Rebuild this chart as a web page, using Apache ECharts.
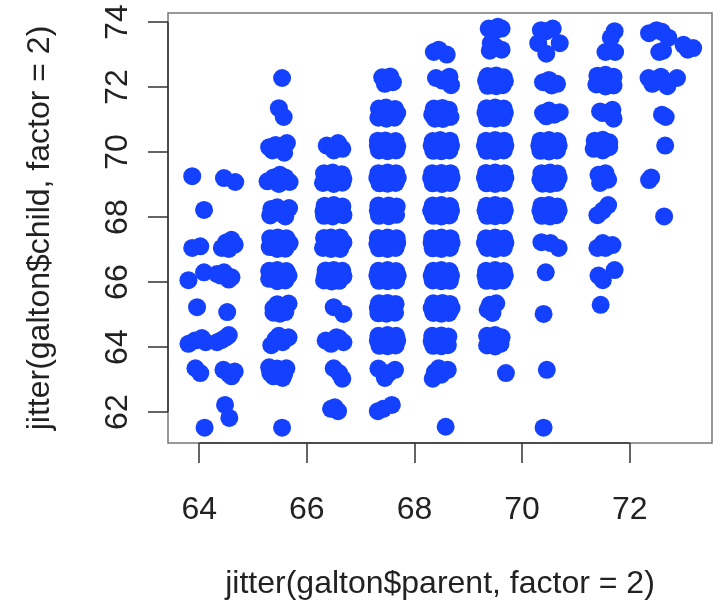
<!DOCTYPE html>
<html>
<head>
<meta charset="utf-8">
<script src="https://cdn.jsdelivr.net/npm/echarts@6/dist/echarts.min.js"></script>
<style>
  html, body { margin: 0; padding: 0; background: #fff; }
  #main { width: 721px; height: 611px; }
</style>
</head>
<body>
<div id="main"></div>
<script>
// tick labels
const xTicks = [64, 66, 68, 70, 72];
const yTicks = [62, 64, 66, 68, 70, 72, 74];

// jittered (parent, child) points, one array per parent column
const p64 = [
  [63.87, 69.26], [64.09, 68.22], [63.87, 67.05], [64.02, 67.1],
  [63.8, 66.06], [64.09, 66.3], [63.96, 65.23],
  [63.8, 64.1], [63.92, 64.2], [64.05, 64.28], [64.12, 64.15],
  [63.93, 63.35], [64.02, 63.2], [64.1, 61.52]
];
const p64_5 = [
  [64.46, 69.2], [64.67, 69.08],
  [64.42, 67.05], [64.5, 67.22], [64.6, 67.3], [64.66, 67.15], [64.55, 67.02],
  [64.33, 66.25], [64.46, 66.3], [64.6, 66.15], [64.55, 66.08], [64.4, 66.2],
  [64.52, 65.08],
  [64.33, 64.15], [64.42, 64.22], [64.5, 64.3], [64.55, 64.37],
  [64.45, 63.3], [64.55, 63.18], [64.66, 63.25], [64.6, 63.1],
  [64.48, 62.22], [64.56, 61.82]
];
const p65_5 = [
  [65.54, 72.28], [65.48, 71.35], [65.57, 71.08],
  [65.3, 70.15], [65.63, 70.28], [65.58, 69.98], [65.42, 70.22], [65.36, 70.05],
  [65.27, 69.1], [65.5, 69.3], [65.68, 69.08], [65.48, 69.02], [65.38, 69.22], [65.6, 69.22],
  [65.4, 68.15], [65.67, 68.28], [65.54, 68.1], [65.32, 68.05], [65.6, 68.02], [65.45, 68.3], [65.34, 68.25],
  [65.32, 67.35], [65.46, 67.37], [65.62, 67.35], [65.68, 67.2], [65.31, 67.08], [65.45, 67.02], [65.6, 67.03], [65.5, 67.2],
  [65.3, 66.35], [65.45, 66.37], [65.62, 66.34], [65.66, 66.2], [65.3, 66.1], [65.45, 66.03], [65.6, 66.05], [65.5, 66.2],
  [65.38, 65.06], [65.52, 65.23], [65.6, 65.08], [65.45, 65.32], [65.66, 65.34], [65.5, 65.03], [65.38, 65.2],
  [65.34, 64.06], [65.66, 64.3], [65.42, 64.25], [65.55, 64.15], [65.48, 64.35],
  [65.3, 63.38], [65.48, 63.24], [65.62, 63.35], [65.38, 63.1], [65.55, 63.05], [65.45, 63.34], [65.32, 63.2], [65.58, 63.18],
  [65.54, 61.52]
];
const p66_5 = [
  [66.37, 70.2], [66.66, 70.1], [66.5, 70.05], [66.58, 70.28],
  [66.32, 69.35], [66.48, 69.37], [66.65, 69.32], [66.68, 69.18], [66.3, 69.05], [66.5, 69.02], [66.66, 69.06], [66.45, 69.2],
  [66.33, 68.35], [66.5, 68.37], [66.66, 68.33], [66.31, 68.18], [66.32, 68.04], [66.48, 68.02], [66.68, 68.06], [66.55, 68.2],
  [66.32, 67.36], [66.45, 67.37], [66.62, 67.37], [66.68, 67.22], [66.3, 67.05], [66.45, 67.02], [66.62, 67.02], [66.5, 67.2], [66.36, 67.18],
  [66.35, 66.36], [66.5, 66.37], [66.66, 66.35], [66.68, 66.18], [66.32, 66.05], [66.46, 66.02], [66.6, 66.04], [66.5, 66.2], [66.34, 66.2],
  [66.5, 65.23], [66.68, 65.02],
  [66.35, 64.2], [66.6, 64.27], [66.68, 64.15], [66.45, 64.1], [66.55, 64.3],
  [66.5, 63.35], [66.66, 63.03], [66.6, 63.2],
  [66.52, 62.15], [66.58, 62.03], [66.45, 62.1]
];
const p67_5 = [
  [67.4, 72.3], [67.55, 72.33], [67.45, 72.1], [67.6, 72.15],
  [67.34, 71.34], [67.47, 71.37], [67.64, 71.33], [67.68, 71.2], [67.33, 71.06], [67.48, 71.03], [67.63, 71.06], [67.5, 71.2],
  [67.32, 70.35], [67.46, 70.36], [67.65, 70.34], [67.68, 70.18], [67.32, 70.2], [67.34, 70.05], [67.5, 70.03], [67.66, 70.05], [67.5, 70.2],
  [67.33, 69.35], [67.5, 69.37], [67.66, 69.35], [67.69, 69.2], [67.31, 69.2], [67.35, 69.04], [67.5, 69.03], [67.65, 69.05], [67.5, 69.2],
  [67.33, 68.36], [67.52, 68.36], [67.67, 68.33], [67.32, 68.2], [67.34, 68.04], [67.52, 68.03], [67.66, 68.07], [67.5, 68.2],
  [67.32, 67.36], [67.5, 67.37], [67.67, 67.35], [67.68, 67.2], [67.31, 67.18], [67.34, 67.04], [67.5, 67.02], [67.65, 67.05], [67.5, 67.2],
  [67.33, 66.35], [67.5, 66.37], [67.66, 66.34], [67.69, 66.2], [67.31, 66.2], [67.34, 66.04], [67.5, 66.03], [67.66, 66.05], [67.5, 66.2],
  [67.34, 65.35], [67.5, 65.36], [67.65, 65.33], [67.32, 65.2], [67.33, 65.04], [67.48, 65.03], [67.64, 65.06], [67.5, 65.2],
  [67.33, 64.35], [67.5, 64.37], [67.66, 64.35], [67.68, 64.2], [67.32, 64.2], [67.35, 64.04], [67.5, 64.03], [67.65, 64.05], [67.5, 64.2],
  [67.33, 63.34], [67.45, 63.05], [67.64, 63.3], [67.52, 63.2],
  [67.32, 62.03], [67.42, 62.1], [67.58, 62.22]
];
const p68_5 = [
  [68.36, 73.08], [68.6, 73.0], [68.45, 73.15],
  [68.4, 72.28], [68.65, 72.32], [68.68, 72.06], [68.52, 72.2],
  [68.36, 71.34], [68.52, 71.36], [68.64, 71.3], [68.33, 71.15], [68.38, 71.03], [68.53, 71.02], [68.67, 71.08], [68.5, 71.2],
  [68.34, 70.34], [68.48, 70.37], [68.66, 70.35], [68.68, 70.2], [68.32, 70.2], [68.35, 70.04], [68.5, 70.03], [68.65, 70.05], [68.5, 70.2],
  [68.33, 69.35], [68.5, 69.36], [68.67, 69.35], [68.69, 69.2], [68.31, 69.2], [68.34, 69.04], [68.51, 69.02], [68.66, 69.05], [68.5, 69.2],
  [68.34, 68.36], [68.5, 68.37], [68.66, 68.34], [68.68, 68.2], [68.31, 68.2], [68.35, 68.04], [68.5, 68.02], [68.65, 68.05], [68.5, 68.2],
  [68.33, 67.35], [68.5, 67.37], [68.67, 67.35], [68.69, 67.2], [68.32, 67.2], [68.34, 67.04], [68.5, 67.02], [68.66, 67.05], [68.5, 67.2],
  [68.35, 66.35], [68.5, 66.37], [68.65, 66.34], [68.68, 66.2], [68.32, 66.2], [68.34, 66.05], [68.5, 66.03], [68.66, 66.04], [68.5, 66.2],
  [68.35, 65.35], [68.52, 65.36], [68.66, 65.33], [68.69, 65.2], [68.32, 65.2], [68.35, 65.05], [68.5, 65.03], [68.64, 65.05], [68.5, 65.2],
  [68.33, 64.35], [68.5, 64.36], [68.63, 64.33], [68.32, 64.18], [68.35, 64.04], [68.5, 64.03], [68.62, 64.06], [68.5, 64.2],
  [68.38, 63.23], [68.62, 63.3], [68.34, 63.03], [68.5, 63.15], [68.45, 63.35],
  [68.58, 61.55]
];
const p69_5 = [
  [69.38, 73.8], [69.62, 73.8], [69.5, 73.74], [69.55, 73.86],
  [69.42, 73.35], [69.62, 73.15], [69.5, 73.25], [69.4, 73.12],
  [69.36, 72.34], [69.52, 72.36], [69.66, 72.3], [69.68, 72.18], [69.33, 72.2], [69.36, 72.04], [69.52, 72.03], [69.64, 72.06], [69.5, 72.2],
  [69.34, 71.35], [69.5, 71.37], [69.66, 71.34], [69.68, 71.2], [69.32, 71.2], [69.35, 71.04], [69.5, 71.03], [69.65, 71.05], [69.5, 71.2],
  [69.33, 70.35], [69.5, 70.37], [69.67, 70.35], [69.69, 70.2], [69.31, 70.2], [69.34, 70.04], [69.5, 70.02], [69.66, 70.05], [69.5, 70.2],
  [69.33, 69.36], [69.5, 69.37], [69.67, 69.35], [69.69, 69.2], [69.31, 69.2], [69.34, 69.04], [69.5, 69.02], [69.66, 69.05], [69.5, 69.2],
  [69.34, 68.35], [69.5, 68.37], [69.66, 68.34], [69.68, 68.2], [69.32, 68.2], [69.35, 68.04], [69.5, 68.03], [69.65, 68.05], [69.5, 68.2],
  [69.33, 67.35], [69.5, 67.37], [69.67, 67.34], [69.69, 67.2], [69.31, 67.2], [69.35, 67.05], [69.5, 67.02], [69.66, 67.05], [69.5, 67.2],
  [69.33, 66.35], [69.5, 66.37], [69.66, 66.34], [69.68, 66.2], [69.32, 66.2], [69.34, 66.04], [69.5, 66.03], [69.64, 66.05], [69.5, 66.2],
  [69.4, 65.3], [69.52, 65.35], [69.45, 65.05], [69.36, 65.15],
  [69.35, 64.35], [69.5, 64.37], [69.62, 64.3], [69.35, 64.05], [69.5, 64.02], [69.6, 64.1], [69.45, 64.2],
  [69.7, 63.2]
];
const p70_5 = [
  [70.35, 73.75], [70.57, 73.8], [70.45, 73.72],
  [70.3, 73.35], [70.7, 73.35], [70.45, 73.03],
  [70.39, 72.15], [70.65, 72.1], [70.5, 72.22], [70.55, 72.05],
  [70.39, 71.2], [70.7, 71.23], [70.5, 71.28], [70.6, 71.15], [70.45, 71.1],
  [70.34, 70.35], [70.5, 70.37], [70.66, 70.34], [70.68, 70.2], [70.32, 70.2], [70.34, 70.04], [70.5, 70.02], [70.65, 70.05], [70.5, 70.2],
  [70.36, 69.35], [70.52, 69.37], [70.66, 69.34], [70.68, 69.2], [70.34, 69.15], [70.38, 69.03], [70.52, 69.02], [70.64, 69.05], [70.5, 69.2],
  [70.36, 68.35], [70.5, 68.37], [70.66, 68.33], [70.68, 68.2], [70.34, 68.2], [70.37, 68.04], [70.52, 68.02], [70.64, 68.06], [70.5, 68.2],
  [70.36, 67.23], [70.53, 67.2], [70.68, 67.05],
  [70.44, 66.3], [70.4, 65.02], [70.46, 63.3], [70.4, 61.52]
];
const p71_5 = [
  [71.72, 73.72], [71.65, 73.52], [71.55, 73.08], [71.73, 73.08],
  [71.4, 72.35], [71.55, 72.38], [71.7, 72.32], [71.38, 72.08], [71.55, 72.02], [71.7, 72.05], [71.5, 72.2],
  [71.5, 71.2], [71.68, 71.3], [71.7, 71.03], [71.45, 71.25],
  [71.35, 70.35], [71.5, 70.38], [71.62, 70.3], [71.33, 70.1], [71.5, 70.05], [71.62, 70.15], [71.42, 70.2],
  [71.42, 69.3], [71.55, 69.35], [71.6, 69.15], [71.45, 69.05], [71.52, 69.2],
  [71.4, 68.06], [71.6, 68.37], [71.5, 68.2],
  [71.4, 67.05], [71.55, 67.05], [71.68, 67.14], [71.5, 67.2],
  [71.42, 66.2], [71.72, 66.37], [71.5, 66.06],
  [71.46, 65.3]
];
const p72_5 = [
  [72.36, 73.66], [72.5, 73.75], [72.72, 73.52], [72.6, 73.7],
  [72.55, 73.08], [72.62, 73.12],
  [72.35, 72.28], [72.5, 72.22], [72.65, 72.2], [72.7, 72.03], [72.42, 72.1], [72.58, 72.32],
  [72.67, 71.08], [72.6, 71.15],
  [72.66, 70.2],
  [72.36, 69.14], [72.4, 69.22],
  [72.64, 68.02]
];
const p73 = [
  [73.0, 73.3], [73.18, 73.2], [73.08, 73.15],
  [72.88, 72.28]
];

const points = [].concat(p64, p64_5, p65_5, p66_5, p67_5, p68_5, p69_5, p70_5, p71_5, p72_5, p73);

const xMin = 63.42, xMax = 73.53;
const yMin = 61.05, yMax = 74.28;

const font = 'Liberation Sans';
const chart = echarts.init(document.getElementById('main'));

chart.setOption({
  animation: false,
  grid: {
    left: 168, top: 13, width: 544, height: 430,
    show: true, borderColor: '#777', borderWidth: 1.5, backgroundColor: '#fff'
  },
  xAxis: {
    type: 'value', min: xMin, max: xMax,
    name: 'jitter(galton$parent, factor = 2)',
    nameLocation: 'middle', nameGap: 125,
    nameTextStyle: { fontFamily: font, fontSize: 32, color: '#222' },
    axisLine: { show: false },
    axisTick: { show: true, inside: false, length: 20, customValues: xTicks, lineStyle: { color: '#333', width: 1.5 } },
    axisLabel: { customValues: xTicks, margin: 51, fontFamily: font, fontSize: 32, color: '#222' },
    splitLine: { show: false }
  },
  yAxis: {
    type: 'value', min: yMin, max: yMax,
    name: 'jitter(galton$child, factor = 2)',
    nameLocation: 'middle', nameGap: 112, nameRotate: 90,
    nameTextStyle: { fontFamily: font, fontSize: 32, color: '#222' },
    axisLine: { show: false },
    axisTick: { show: true, inside: false, length: 20, customValues: yTicks, lineStyle: { color: '#333', width: 1.5 } },
    axisLabel: { customValues: yTicks, rotate: 90, margin: 34, fontFamily: font, fontSize: 32, color: '#222' },
    splitLine: { show: false }
  },
  series: [{
    type: 'scatter',
    data: points,
    symbol: 'circle',
    symbolSize: 18,
    itemStyle: { color: '#1441ff', opacity: 1 },
    markLine: {
      silent: true, symbol: 'none', label: { show: false },
      lineStyle: { color: '#333', width: 1.5, type: 'solid' },
      data: [
        [{ coord: [xTicks[0], yMin] }, { coord: [xTicks[xTicks.length - 1], yMin] }],
        [{ coord: [xMin, yTicks[0]] }, { coord: [xMin, yTicks[yTicks.length - 1]] }]
      ]
    }
  }]
});
</script>
</body>
</html>
